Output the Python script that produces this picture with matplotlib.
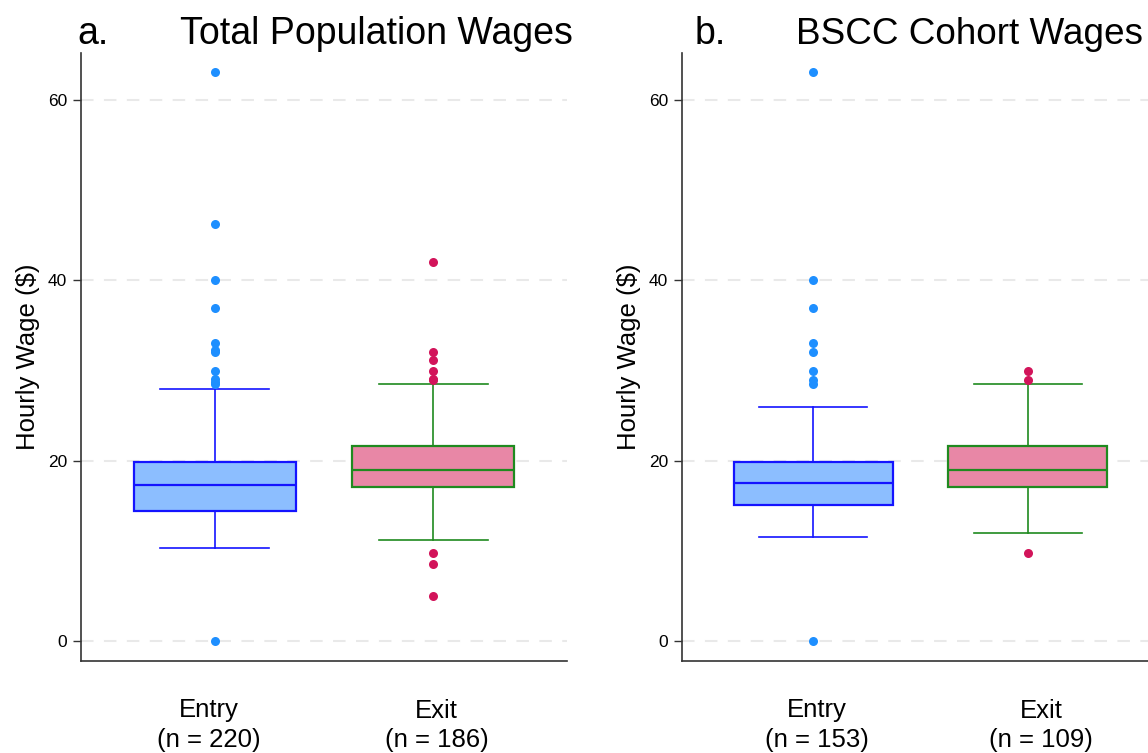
import matplotlib
matplotlib.use("Agg")
import matplotlib.pyplot as plt
from matplotlib.transforms import ScaledTranslation

plt.rcParams['font.family'] = ['Liberation Sans', 'DejaVu Sans']

groups = ['Entry', 'Exit']

# box summaries read as: median, lower quartile, upper quartile, whisker low, whisker high
total_entry = [17.3, 14.5, 19.9, 10.3, 28.0]
total_exit = [19.0, 17.1, 21.6, 11.2, 28.5]
total_entry_out = [63.0, 46.2, 40.0, 36.9, 33.0, 32.3, 32.0, 30.0, 29.1, 28.7, 28.5, 0.0]
total_exit_out = [42.0, 32.0, 31.2, 30.0, 29.1, 28.9, 9.8, 8.6, 5.0]
total_n = [220, 186]

bscc_entry = [17.5, 15.1, 19.9, 11.6, 26.0]
bscc_exit = [19.0, 17.1, 21.6, 12.0, 28.5]
bscc_entry_out = [63.0, 40.0, 36.9, 33.0, 32.0, 30.0, 29.0, 28.5, 0.0]
bscc_exit_out = [30.0, 29.0, 9.8]
bscc_n = [153, 109]

yticks = [0, 20, 40, 60]

face_cols = ['#8cbeff', '#e887a6']
edge_cols = ['#1414ff', '#1f8a1f']
flier_cols = ['#1e8fff', '#d2145a']


def make_stats(summary, outliers):
    med, q1, q3, lo, hi = summary
    return dict(med=med, q1=q1, q3=q3, whislo=lo, whishi=hi, fliers=outliers)


def draw_panel(ax, stats, counts, letter, title, letter_x, title_x, label_shift, title_size):
    for i, st in enumerate(stats):
        ax.bxp([st], positions=[i + 1], widths=0.74, capwidths=0.5,
               patch_artist=True, showfliers=True,
               boxprops=dict(facecolor=face_cols[i], edgecolor=edge_cols[i], linewidth=1.6),
               medianprops=dict(color=edge_cols[i], linewidth=1.6),
               whiskerprops=dict(color=edge_cols[i], linewidth=1.2),
               capprops=dict(color=edge_cols[i], linewidth=1.2),
               flierprops=dict(marker='o', markersize=6.5, markerfacecolor=flier_cols[i],
                               markeredgecolor='none', linestyle='none'))
    ax.set_xlim(0.39, 2.61)
    ax.set_ylim(-2.16, 65.15)
    ax.set_yticks(yticks)
    ax.set_xticks([1, 2])
    ax.set_xticklabels(['{}\n(n = {})'.format(g, n) for g, n in zip(groups, counts)],
                       fontsize=18.5, linespacing=1.3)
    ax.tick_params(axis='x', length=0, pad=27)
    ax.tick_params(axis='y', length=6, width=1, color='#333333', labelsize=12.5, pad=4)
    # nudge the category labels sideways a little
    for lab, dx in zip(ax.get_xticklabels(), label_shift):
        lab.set_transform(lab.get_transform() + ScaledTranslation(dx / 100, 0, fig.dpi_scale_trans))
    ax.set_ylabel('Hourly Wage ($)', fontsize=18.5, labelpad=6)
    ax.yaxis.grid(True, linestyle=(0, (6, 5)), color='#e9e9e9', linewidth=1.5)
    ax.set_axisbelow(True)
    for side in ['top', 'right']:
        ax.spines[side].set_visible(False)
    for side in ['left', 'bottom']:
        ax.spines[side].set_color('#333333')
        ax.spines[side].set_linewidth(1.2)
    ax.text(letter_x, 1.014, letter, transform=ax.transAxes, fontsize=27,
            ha='left', va='baseline')
    ax.text(title_x, 1.014, title, transform=ax.transAxes, fontsize=title_size,
            ha='left', va='baseline')


fig = plt.figure(figsize=(11.48, 7.53), dpi=100)
ax1 = fig.add_axes([81 / 1148, 1 - 661 / 753, 486 / 1148, 608 / 753])
ax2 = fig.add_axes([682 / 1148, 1 - 661 / 753, 477 / 1148, 608 / 753])

draw_panel(ax1,
           [make_stats(total_entry, total_entry_out), make_stats(total_exit, total_exit_out)],
           total_n, 'a.', 'Total Population Wages', -0.008, 0.204, [-6, 3], 27)
draw_panel(ax2,
           [make_stats(bscc_entry, bscc_entry_out), make_stats(bscc_exit, bscc_exit_out)],
           bscc_n, 'b.', 'BSCC Cohort Wages', 0.027, 0.24, [4, 13], 26.6)

fig.savefig('out.png', dpi=100, facecolor='white')
